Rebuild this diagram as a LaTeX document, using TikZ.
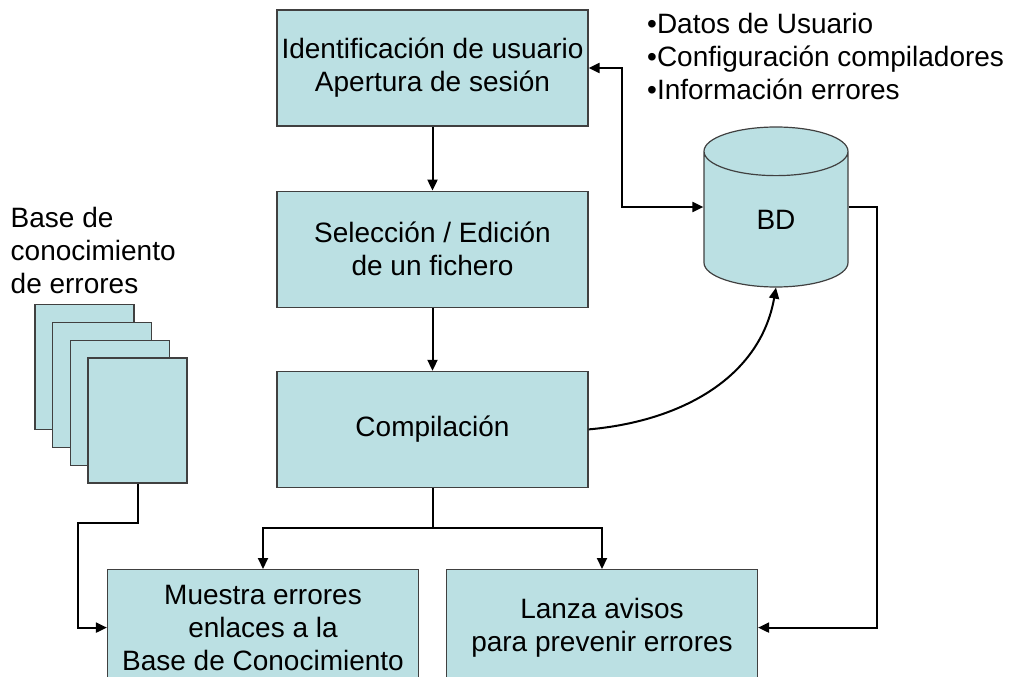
\documentclass[tikz,border=0pt]{standalone}
\usepackage{fontspec}
\setmainfont{Liberation Sans}
\usetikzlibrary{positioning, shapes.geometric, arrows.meta}
\definecolor{cajaazul}{RGB}{187,224,227}

\begin{document}
\begin{tikzpicture}[x=1pt, y=-1pt,
font=\fontsize{28}{33}\selectfont,
cajanode/.style={rectangle, draw=black!75, fill=cajaazul, line width=1.2pt, minimum width=311pt, minimum height=116pt, align=center, inner sep=0pt},
hojanode/.style={rectangle, draw=black!75, fill=cajaazul, line width=1.2pt, minimum width=99pt, minimum height=125pt, inner sep=0pt},
bdnode/.style={cylinder, shape border rotate=90, aspect=1.25, draw=black!75, fill=cajaazul, line width=1.2pt, minimum width=144pt, minimum height=160pt, inner sep=0pt},
textonode/.style={align=left, inner sep=0pt},
flecha/.style={-{Triangle[length=11pt, width=10pt]}, line width=2pt},
flechadoble/.style={{Triangle[length=11pt, width=10pt]}-{Triangle[length=11pt, width=10pt]}, line width=2pt},
]
\useasboundingbox (0,0) rectangle (1009,677);
\clip (0,0) rectangle (1009,677);

%Nodes
\node[cajanode]      (ident)                                   at (432.5,68)     {Identificación de usuario\\Apertura de sesión};
\node[cajanode]      (selec)       [below=64pt of ident]                          {Selección / Edición\\de un fichero};
\node[cajanode]      (compil)      [below=63pt of selec]                          {Compilación};
\node[cajanode]      (muestra)     [below=81pt of compil, xshift=-169.5pt]        {Muestra errores\\enlaces a la\\Base de Conocimiento};
\node[cajanode]      (lanza)       [below=81pt of compil, xshift=169.5pt]         {Lanza avisos\\para prevenir errores};
\node[bdnode, anchor=shape center] (bd)                        at (776,207)      {BD};
\foreach \i in {1,...,4}
  \node[hojanode]    (pag\i)                                   at ({84.5+17.67*(\i-1)}, {367+17.83*(\i-1)}) {};
\node[textonode, anchor=north west]  (basetxt)   at (10.5,207.5)   {Base de\\conocimiento\\de errores};
\node[textonode, anchor=north west]  (datostxt)  at (647,13.5)     {•Datos de Usuario\\•Configuración compiladores\\•Información errores};
\coordinate (codoizq) at (78,523);

%Lines
\draw[flecha] (ident.south) -- (selec.north);
\draw[flecha] (selec.south) -- (compil.north);
\draw[flecha] (compil.south) -- ++(0,40) -| (muestra.north);
\draw[flecha] (compil.south) -- ++(0,40) -| (lanza.north);
\draw[flecha] (pag4.south) |- (codoizq) |- (muestra.west);
\draw[flechadoble] (ident.east) -- ++(33,0) |- (bd.west |- bd.shape center);
\draw[flecha] (bd.east |- bd.shape center) -- ++(28,0) |- (lanza.east);
\draw[flecha] (compil.east) to[out=5, in=-100] (bd.south);
\end{tikzpicture}
\end{document}
